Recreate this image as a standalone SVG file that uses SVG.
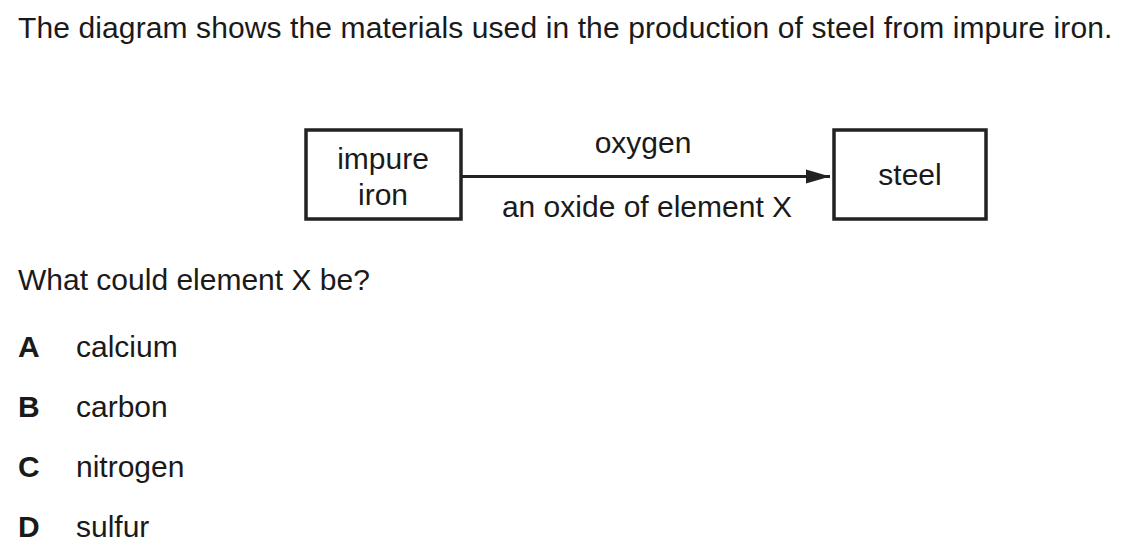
<svg xmlns="http://www.w3.org/2000/svg" width="1131" height="549" viewBox="0 0 1131 549">
<style>
text{font-family:"Liberation Sans",Arial,sans-serif;font-size:30px;fill:#1a1a1a}
.b{font-weight:bold}
.c{text-anchor:middle}
.box{fill:none;stroke:#222;stroke-width:3.5}
.ln{stroke:#222;stroke-width:3;fill:none}
</style>
<defs>
<marker id="ah" markerUnits="userSpaceOnUse" markerWidth="24" markerHeight="16" refX="24" refY="8" orient="auto">
<path d="M0,1 L24,8 L0,15 Z" fill="#222"/>
</marker>
</defs>
<text x="18" y="38" letter-spacing="0.11">The diagram shows the materials used in the production of steel from impure iron.</text>
<g id="impure-iron">
<rect class="box" x="306" y="130" width="155" height="89"/>
<text class="c" x="383" y="169">impure</text>
<text class="c" x="383" y="205">iron</text>
</g>
<g id="steel">
<rect class="box" x="834" y="130" width="152" height="89"/>
<text class="c" x="910" y="185">steel</text>
</g>
<g id="connectors">
<line class="ln" x1="461" y1="176.5" x2="830" y2="176.5" marker-end="url(#ah)"/>
<text class="c" x="643" y="153">oxygen</text>
<text class="c" x="647" y="217">an oxide of element X</text>
</g>
<text x="18" y="290">What could element X be?</text>
<text class="b" x="18" y="357">A</text><text x="76" y="357">calcium</text>
<text class="b" x="18" y="417">B</text><text x="76" y="417">carbon</text>
<text class="b" x="18" y="477">C</text><text x="76" y="477">nitrogen</text>
<text class="b" x="18" y="537">D</text><text x="76" y="537">sulfur</text>
</svg>
